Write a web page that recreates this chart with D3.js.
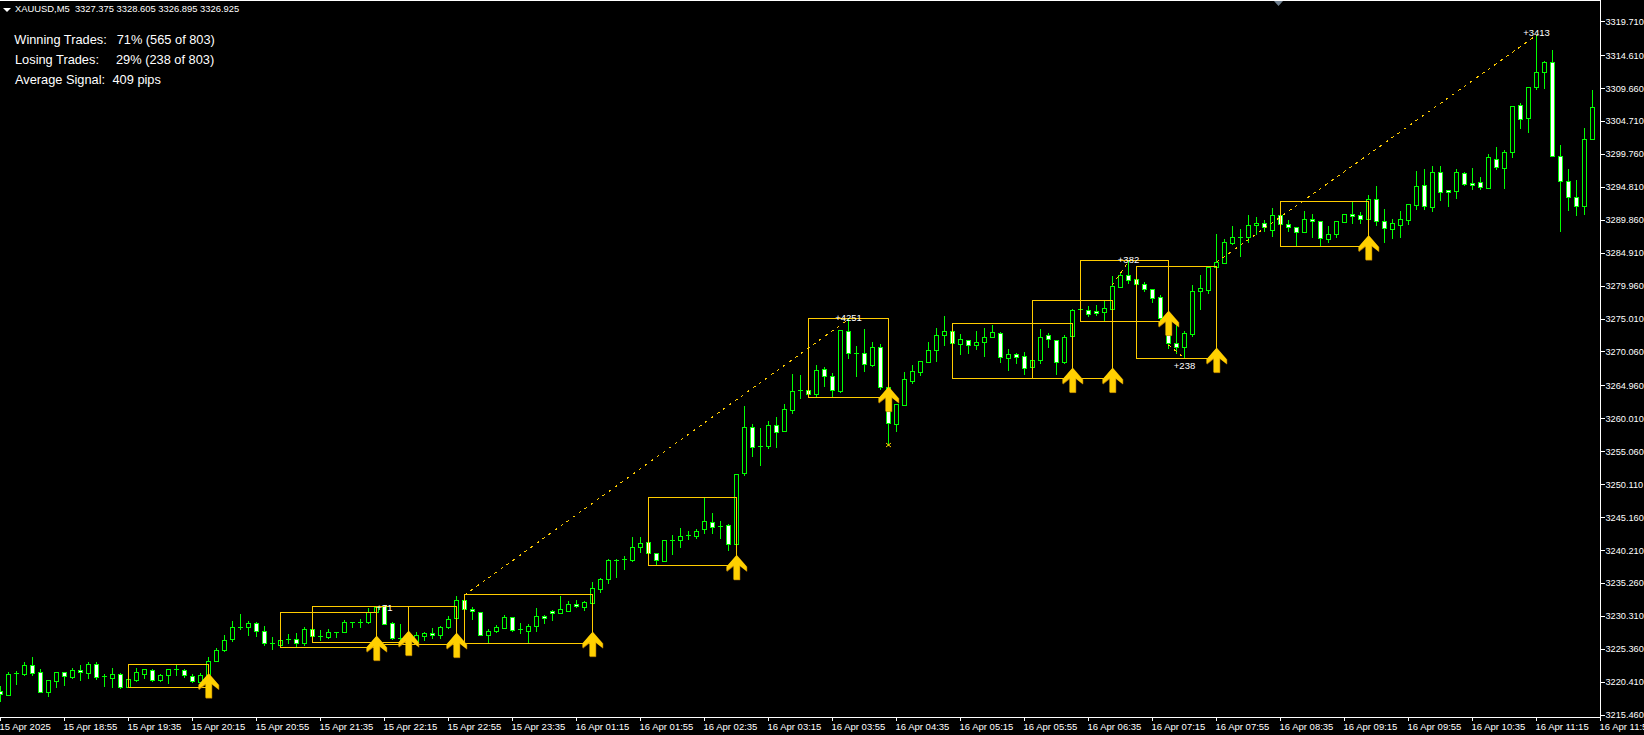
<!DOCTYPE html>
<html><head><meta charset="utf-8">
<script src="https://cdn.jsdelivr.net/npm/d3@7/dist/d3.min.js"></script>
<style>
html,body{margin:0;padding:0;background:#000;overflow:hidden}
svg{display:block}
text{font-family:"Liberation Sans",Arial,sans-serif;fill:#fff}
</style></head><body>
<script>
const opens=[3219.06,3218.46,3221.57,3221.57,3222.87,3221.82,3218.91,3220.57,3221.82,3221.17,
3222.12,3221.77,3223.02,3221.22,3221.02,3221.52,3219.66,3220.72,3221.62,3222.12,
3220.72,3221.37,3222.22,3222.12,3221.22,3220.42,3221.37,3223.57,3225.13,3226.78,
3228.49,3228.59,3229.19,3227.98,3226.18,3225.98,3226.63,3226.78,3226.18,3228.29,
3227.23,3227.08,3227.83,3227.83,3229.34,3229.19,3229.34,3230.94,3231.74,3229.19,
3226.93,3226.68,3226.18,3227.33,3227.68,3227.38,3228.59,3229.94,3232.65,3231.29,
3230.84,3227.48,3227.98,3228.54,3230.09,3228.29,3228.09,3228.74,3230.24,3230.99,
3230.69,3230.99,3232.04,3231.70,3232.30,3234.40,3235.81,3238.66,3238.66,3238.66,
3240.62,3241.37,3239.82,3238.51,3241.62,3241.67,3242.42,3242.37,3243.32,3244.38,
3243.78,3243.93,3241.07,3251.75,3258.71,3255.86,3255.90,3258.97,3258.15,3261.31,
3264.15,3264.23,3263.72,3267.38,3266.33,3264.17,3273.10,3269.84,3269.79,3268.08,
3270.69,3264.67,3259.21,3262.07,3265.68,3267.03,3268.48,3270.34,3272.59,3273.10,
3271.24,3271.74,3270.99,3271.44,3272.19,3272.79,3269.04,3269.64,3269.34,3267.68,
3268.73,3272.49,3271.74,3268.43,3272.34,3276.25,3276.25,3276.10,3276.05,3276.50,
3279.81,3281.52,3280.91,3280.16,3279.41,3278.21,3275.15,3271.29,3270.69,3272.74,
3279.11,3279.36,3282.82,3283.42,3286.38,3287.23,3287.23,3289.03,3289.33,3288.28,
3290.54,3289.18,3288.73,3288.08,3289.94,3289.63,3287.03,3287.68,3289.58,3290.69,
3290.54,3290.04,3292.94,3289.63,3288.53,3289.13,3289.88,3292.14,3295.04,3291.83,
3297.00,3294.29,3294.14,3296.85,3295.34,3295.49,3294.69,3298.95,3297.60,3300.00,
3307.07,3305.12,3309.78,3312.03,3313.54,3299.40,3295.64,3293.24,3291.88,3301.96];
const closes=[3218.51,3221.52,3221.67,3222.87,3221.77,3218.91,3220.62,3221.82,3221.22,3222.12,
3221.82,3223.02,3221.07,3221.12,3221.52,3219.56,3220.77,3221.82,3222.27,3220.72,
3221.37,3222.27,3222.27,3221.37,3220.47,3221.37,3223.47,3225.13,3226.63,3228.59,
3228.64,3229.19,3227.98,3226.18,3226.03,3226.63,3226.88,3226.18,3228.29,3227.23,
3227.08,3227.83,3227.93,3229.34,3229.19,3229.34,3230.84,3231.59,3229.04,3226.93,
3226.78,3227.38,3227.38,3227.68,3227.38,3228.59,3229.79,3232.65,3231.29,3230.99,
3227.48,3227.98,3228.59,3230.09,3228.24,3228.19,3228.74,3230.24,3229.94,3230.69,
3231.29,3232.04,3231.74,3232.35,3234.45,3235.81,3238.66,3238.76,3238.81,3240.62,
3241.22,3239.72,3238.66,3241.67,3241.72,3242.27,3242.52,3243.02,3244.53,3243.63,
3243.63,3241.07,3251.70,3258.71,3255.70,3255.76,3258.97,3258.00,3261.37,3264.08,
3264.25,3263.63,3267.23,3266.33,3264.22,3273.25,3269.79,3269.74,3268.13,3270.69,
3264.67,3259.26,3262.12,3265.88,3267.08,3268.58,3270.24,3272.49,3273.10,3271.29,
3271.89,3270.99,3271.44,3272.19,3272.94,3269.19,3269.64,3269.19,3267.53,3268.73,
3272.19,3271.89,3268.43,3272.19,3276.25,3276.40,3275.70,3275.80,3276.55,3279.86,
3281.52,3280.86,3280.26,3279.51,3278.16,3275.15,3271.29,3270.69,3272.79,3279.11,
3279.56,3282.82,3283.47,3286.48,3287.23,3287.33,3289.03,3289.33,3288.73,3290.54,
3289.18,3288.73,3288.08,3289.94,3289.63,3287.08,3287.68,3289.63,3290.69,3290.39,
3290.04,3292.94,3289.63,3288.68,3289.33,3289.93,3292.19,3294.89,3291.88,3297.00,
3293.99,3293.99,3297.00,3295.19,3295.04,3294.74,3299.25,3297.75,3300.00,3306.92,
3304.97,3309.78,3312.03,3313.54,3299.40,3295.64,3293.24,3291.88,3301.96,3306.77];
const highs=[3219.76,3221.82,3221.97,3223.37,3224.07,3222.27,3220.62,3221.82,3221.82,3222.42,
3222.87,3223.32,3223.32,3221.52,3222.42,3221.67,3220.77,3222.42,3222.27,3222.27,
3221.52,3222.27,3223.12,3222.27,3221.52,3221.67,3224.07,3225.43,3227.38,3229.49,
3230.54,3229.49,3229.34,3228.74,3227.08,3226.63,3227.53,3227.68,3228.59,3228.29,
3228.14,3228.39,3227.93,3229.64,3229.34,3229.79,3231.44,3231.74,3232.00,3229.34,
3229.04,3227.68,3227.83,3227.83,3228.44,3228.74,3230.29,3233.25,3232.65,3231.59,
3230.89,3228.29,3228.89,3230.39,3230.09,3229.19,3229.04,3231.44,3230.39,3231.14,
3233.30,3232.50,3232.70,3232.50,3235.36,3235.96,3238.81,3238.86,3239.27,3242.12,
3242.12,3241.37,3239.82,3241.67,3242.42,3243.48,3243.02,3243.32,3248.24,3245.73,
3244.53,3244.08,3251.70,3261.87,3259.16,3258.56,3259.61,3260.21,3262.17,3266.68,
3266.53,3264.23,3267.98,3267.68,3266.78,3273.25,3274.90,3270.84,3273.40,3271.44,
3271.14,3264.77,3262.12,3266.93,3267.98,3268.58,3271.44,3273.60,3275.35,3273.10,
3272.64,3271.74,3273.10,3273.60,3273.99,3272.94,3270.39,3269.79,3269.94,3268.73,
3273.40,3272.79,3271.74,3272.49,3276.40,3276.50,3276.85,3277.00,3277.71,3281.37,
3281.82,3283.62,3280.91,3280.46,3279.41,3278.51,3275.25,3274.30,3273.15,3280.01,
3281.52,3282.82,3287.73,3286.93,3288.88,3288.43,3290.54,3290.24,3289.79,3291.59,
3290.54,3289.79,3288.73,3291.14,3290.69,3289.63,3288.88,3289.63,3290.69,3292.49,
3290.99,3293.54,3294.95,3291.43,3289.93,3291.13,3292.19,3297.15,3297.45,3297.90,
3297.90,3294.29,3297.45,3297.00,3297.60,3296.24,3299.70,3300.76,3300.31,3306.92,
3307.37,3309.78,3317.60,3313.69,3315.34,3301.06,3297.45,3295.79,3303.61,3309.33];
const lows=[3217.56,3218.36,3220.07,3221.37,3221.47,3218.91,3218.31,3219.61,3219.91,3221.02,
3220.72,3221.02,3220.77,3219.76,3219.61,3219.41,3219.66,3220.57,3221.02,3220.57,
3220.57,3220.27,3221.42,3221.17,3220.42,3220.42,3221.17,3223.47,3225.08,3226.48,
3228.29,3227.48,3227.28,3225.93,3225.38,3225.88,3226.18,3225.73,3225.98,3227.08,
3226.63,3226.93,3227.13,3227.83,3228.64,3228.64,3229.19,3230.84,3229.04,3226.78,
3226.68,3226.03,3226.08,3226.63,3226.93,3226.93,3228.44,3229.94,3231.29,3229.84,
3227.38,3226.43,3227.93,3228.44,3228.09,3227.78,3226.33,3227.98,3229.19,3229.69,
3230.69,3230.99,3231.59,3231.20,3232.30,3233.95,3235.31,3236.16,3237.36,3238.61,
3239.97,3239.67,3237.91,3238.51,3239.67,3240.67,3241.92,3242.07,3242.82,3242.82,
3242.07,3240.27,3241.02,3251.54,3254.35,3253.00,3255.55,3255.70,3258.15,3260.82,
3263.07,3263.63,3263.42,3264.93,3263.17,3264.02,3269.13,3266.43,3267.18,3267.93,
3264.37,3256.00,3258.16,3262.02,3265.28,3266.53,3268.48,3268.63,3270.99,3271.29,
3269.64,3269.89,3270.39,3269.44,3272.19,3268.53,3267.23,3268.38,3266.73,3267.68,
3268.28,3270.69,3266.63,3268.38,3272.29,3276.20,3275.40,3275.55,3274.60,3276.45,
3279.71,3280.41,3280.26,3279.21,3277.56,3274.80,3270.64,3269.79,3269.04,3272.44,
3276.50,3278.91,3282.72,3283.37,3286.18,3284.47,3286.48,3287.68,3288.13,3287.43,
3289.18,3288.13,3286.03,3288.03,3287.33,3285.88,3286.58,3287.33,3289.58,3289.38,
3289.33,3290.04,3289.13,3286.57,3287.17,3287.32,3289.28,3291.53,3291.53,3291.23,
3292.89,3291.98,3293.19,3295.04,3294.54,3294.54,3294.69,3297.45,3294.69,3299.35,
3303.61,3303.06,3309.48,3309.68,3299.40,3288.13,3291.33,3290.63,3290.78,3301.96];

const priceTicks=[3319.71,3314.61,3309.66,3304.71,3299.76,3294.81,3289.86,3284.91,3279.96,3275.01,3270.06,3264.96,3260.01,3255.06,3250.11,3245.16,3240.21,3235.26,3230.31,3225.36,3220.41,3215.46];
const timeLabels=["15 Apr 2025","15 Apr 18:55","15 Apr 19:35","15 Apr 20:15","15 Apr 20:55","15 Apr 21:35","15 Apr 22:15","15 Apr 22:55","15 Apr 23:35","16 Apr 01:15","16 Apr 01:55","16 Apr 02:35","16 Apr 03:15","16 Apr 03:55","16 Apr 04:35","16 Apr 05:15","16 Apr 05:55","16 Apr 06:35","16 Apr 07:15","16 Apr 07:55","16 Apr 08:35","16 Apr 09:15","16 Apr 09:55","16 Apr 10:35","16 Apr 11:15","16 Apr 11:55"];

// signal boxes: first bar, last bar, top price, bottom price
const boxFrom=[16,35,39,47,58,81,101,119,129,135,142,160];
const boxTo  =[26,47,51,57,74,92,111,134,139,146,152,171];
const boxTop =[3223.15,3230.97,3231.87,3231.87,3233.53,3248.26,3275.02,3274.27,3277.73,3283.74,3282.84,3292.61];
const boxBot =[3219.69,3225.71,3226.46,3226.16,3226.31,3237.89,3263.15,3266.00,3266.00,3274.57,3269.01,3285.85];
// signal arrows: bar and price at the tip
const arrowBar  =[26,47,51,57,74,92,111,134,139,146,152,171];
const arrowPrice=[3221.68,3227.33,3228.08,3227.78,3227.93,3239.47,3264.77,3267.63,3267.63,3276.20,3270.63,3287.53];
// dotted profit lines
const lineFromBar=[58,139,146,152], lineFromPrice=[3233.43,3280.06,3271.04,3283.47];
const lineToBar  =[106,141,148,192], lineToPrice  =[3274.90,3283.62,3269.04,3317.60];
// profit labels
const noteBar  =[48,106,141,148,192];
const notePrice=[3231.54,3275.20,3283.92,3267.93,3318.05];
const noteText =["+71","+4251","+382","+238","+3413"];
const stopBar=111, stopPrice=3256.00;
const headerText="XAUUSD,M5  3327.375 3328.605 3326.895 3326.925";
const statLabels=["Winning Trades:","Losing Trades:","Average Signal:"];
const statValues=["71% (565 of 803)","29% (238 of 803)","409 pips"];

const W=1644,H=735,GREEN="#00ff00",GOLD="#ffcc00";
const x=d3.scaleLinear().domain([0,200]).range([0.5,1600.5]);
const y=d3.scaleLinear().domain([3215.46,3319.71]).range([714.7,21.2]);
const col=i=>Math.floor(x(i))+0.5, row=p=>Math.round(y(p))+0.5;

const svg=d3.select("body").append("svg").attr("width",W).attr("height",H);
svg.append("rect").attr("width",W).attr("height",H).attr("fill","#000");
const chart=svg.append("g").attr("shape-rendering","crispEdges");

const bars=d3.range(opens.length).map(i=>({i,o:opens[i],h:highs[i],l:lows[i],c:closes[i]}));
const g=chart.selectAll("g.bar").data(bars).join("g").attr("class","bar");
g.append("line").attr("x1",d=>col(d.i)).attr("x2",d=>col(d.i))
 .attr("y1",d=>row(d.h)-0.5).attr("y2",d=>row(d.l)+0.5).attr("stroke",GREEN);
g.each(function(d){
  const t=row(Math.max(d.o,d.c)), b=row(Math.min(d.o,d.c)), s=d3.select(this);
  if(b-t<1.5){
    s.append("line").attr("x1",col(d.i)-2.5).attr("x2",col(d.i)+2.5).attr("y1",t).attr("y2",t).attr("stroke",GREEN);
  }else{
    s.append("rect").attr("x",col(d.i)-2).attr("width",4).attr("y",t).attr("height",b-t)
     .attr("fill",d.c<d.o?"#fff":"#000").attr("stroke",GREEN);
  }
});

// boxes
chart.append("g").selectAll("rect").data(d3.range(boxFrom.length)).join("rect")
 .attr("x",k=>col(boxFrom[k])).attr("width",k=>col(boxTo[k])-col(boxFrom[k]))
 .attr("y",k=>row(boxTop[k])).attr("height",k=>row(boxBot[k])-row(boxTop[k]))
 .attr("fill","none").attr("stroke",GOLD);

// dotted lines
svg.append("g").attr("shape-rendering","crispEdges").selectAll("line").data(d3.range(lineFromBar.length)).join("line")
 .attr("x1",k=>x(lineFromBar[k])).attr("y1",k=>y(lineFromPrice[k]))
 .attr("x2",k=>x(lineToBar[k])).attr("y2",k=>y(lineToPrice[k]))
 .attr("stroke",GOLD).attr("stroke-width",1).attr("stroke-dasharray","3 4.4");

// stop mark
const sx=col(stopBar), sy=y(stopPrice);
svg.append("path").attr("d",`M${sx-2.5},${sy-2}L${sx+2.5},${sy+2}M${sx+2.5},${sy-2}L${sx-2.5},${sy+2}`)
 .attr("stroke",GOLD).attr("fill","none");

// arrows
const arrow="M0,0L10,11.5L10,16L3,10.5L3,24.5L-3,24.5L-3,10.5L-10,16L-10,11.5Z";
const ag=svg.append("g").selectAll("g").data(d3.range(arrowBar.length)).join("g")
 .attr("transform",k=>`translate(${col(arrowBar[k])},${y(arrowPrice[k])})`);
ag.append("path").attr("d",arrow).attr("fill","#c88a00").attr("stroke","#c88a00").attr("stroke-width",0.4).attr("transform","translate(0.5,0.5)");
ag.append("path").attr("d",arrow).attr("fill","#ffd000");

// notes
svg.append("g").selectAll("text").data(d3.range(noteBar.length)).join("text")
 .attr("x",k=>x(noteBar[k])).attr("y",k=>y(notePrice[k])+3.3).attr("text-anchor","middle")
 .attr("font-size",9.5).text(k=>noteText[k]);

// frame
const frame=svg.append("g").attr("shape-rendering","crispEdges").attr("stroke","#fff");
frame.append("line").attr("x1",0).attr("x2",1600).attr("y1",0.5).attr("y2",0.5);
frame.append("line").attr("x1",1600.5).attr("x2",1600.5).attr("y1",0).attr("y2",718);
frame.append("line").attr("x1",0).attr("x2",1601).attr("y1",717.5).attr("y2",717.5);

// y axis
const yAxis=d3.axisRight(y).tickValues(priceTicks).tickSize(4).tickPadding(1).tickFormat(d3.format(".3f"));
const ya=svg.append("g").attr("transform","translate(1600.5,0)").call(yAxis);
ya.select(".domain").remove();
ya.selectAll("line").attr("stroke","#fff").attr("shape-rendering","crispEdges");
ya.selectAll("text").attr("fill","#fff").attr("font-size",9.2).attr("font-family",'"Liberation Sans",Arial,sans-serif');

// x axis
const xt=svg.append("g").selectAll("g").data(timeLabels).join("g")
 .attr("transform",(d,k)=>`translate(${col(k*8)},0)`);
xt.append("line").attr("y1",717).attr("y2",721).attr("stroke","#fff").attr("shape-rendering","crispEdges");
xt.append("text").attr("x",-1).attr("y",730).attr("font-size",9.5).text(d=>d);

// header
svg.append("path").attr("d","M3,8L11,8L7,12Z").attr("fill","#fff");
svg.append("text").attr("x",15).attr("y",12).attr("font-size",9.4).attr("style","white-space:pre").text(headerText);
svg.append("path").attr("d","M1274,1L1283,1L1278.5,6Z").attr("fill","#708090");

// stats
const statX=[116.7,116,112.5];
const st=svg.append("g").selectAll("text").data(statLabels).join("text")
 .attr("y",(d,k)=>43.5+k*20).attr("font-size",12.8);
st.append("tspan").attr("x",(d,k)=>k?15:14.3).text(d=>d);
st.append("tspan").attr("x",(d,k)=>statX[k]).text((d,k)=>statValues[k]);
</script>
</body></html>
